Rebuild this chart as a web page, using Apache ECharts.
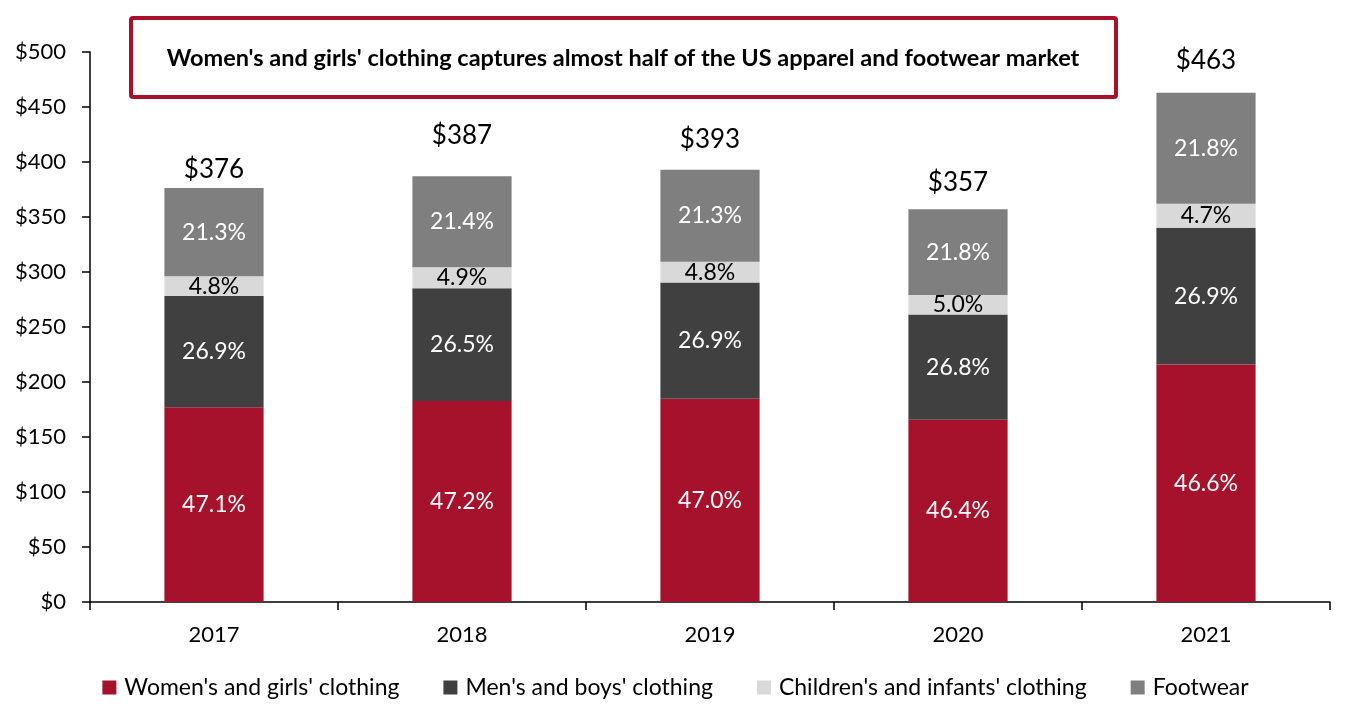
<!DOCTYPE html>
<html>
<head>
<meta charset="utf-8">
<script src="https://cdn.jsdelivr.net/npm/echarts@6/dist/echarts.min.js"></script>
<style>html,body{margin:0;padding:0;background:#fff}#c{width:1351px;height:716px}</style>
</head>
<body>
<div id="c"></div>
<script>
const categories = ['2017', '2018', '2019', '2020', '2021'];
const totals = [376, 387, 393, 357, 463];
const womens = [177.1, 182.7, 184.7, 165.6, 215.8];
const mens = [101.1, 102.6, 105.7, 95.7, 124.5];
const childrens = [18.0, 19.0, 18.9, 17.9, 21.8];
const footwear = [80.1, 82.8, 83.7, 77.8, 100.9];
const womensPct = ['47.1%', '47.2%', '47.0%', '46.4%', '46.6%'];
const mensPct = ['26.9%', '26.5%', '26.9%', '26.8%', '26.9%'];
const childrensPct = ['4.8%', '4.9%', '4.8%', '5.0%', '4.7%'];
const footwearPct = ['21.3%', '21.4%', '21.3%', '21.8%', '21.8%'];
const titleText = "Women's and girls' clothing captures almost half of the US apparel and footwear market";

// style-only: gap between bar top and total label
const totalLabelGap = [5, 28, 17, 14, 19];

const FONT = 'Lato';
const chart = echarts.init(document.getElementById('c'), null, {renderer: 'canvas'});

function seg(name, data, labels, color, labelColor) {
  return {
    name, type: 'bar', stack: 'total', barWidth: '40%',
    itemStyle: {color},
    data,
    label: {
      show: true, position: 'inside', color: labelColor,
      fontFamily: FONT, fontSize: 23,
      formatter: p => labels[p.dataIndex]
    }
  };
}

const series = [
  seg("Women's and girls' clothing", womens, womensPct, '#A6112B', '#fff'),
  seg("Men's and boys' clothing", mens, mensPct, '#404040', '#fff'),
  seg("Children's and infants' clothing", childrens, childrensPct, '#D9D9D9', '#000'),
  seg('Footwear', footwear, footwearPct, '#7F7F7F', '#fff')
];
// total labels via a zero-height stacked series on top
series.push({
  name: 'total', type: 'bar', stack: 'total', barWidth: '40%',
  itemStyle: {color: 'transparent'},
  data: totals.map((t, i) => ({
    value: 0,
    label: {distance: totalLabelGap[i]}
  })),
  label: {
    show: true, position: 'top', color: '#000', fontFamily: FONT, fontSize: 26,
    formatter: p => '$' + totals[p.dataIndex]
  }
});

chart.setOption({
  animation: false,
  textStyle: {fontFamily: FONT},
  grid: {left: 90, right: 21, top: 52, bottom: 114, containLabel: false},
  legend: {
    bottom: 12, left: 'center',
    data: series.slice(0, 4).map(s => s.name),
    icon: 'rect', itemWidth: 14, itemHeight: 14, itemGap: 44,
    textStyle: {fontFamily: FONT, fontSize: 23, color: '#000', padding: [0, 0, 0, 3]}
  },
  xAxis: {
    type: 'category', data: categories,
    axisLine: {lineStyle: {color: '#000', width: 1.5}},
    axisTick: {show: true, length: 8, lineStyle: {color: '#000', width: 1.5}},
    axisLabel: {color: '#000', fontFamily: FONT, fontSize: 22, margin: 22}
  },
  yAxis: {
    type: 'value', min: 0, max: 500, interval: 50,
    axisLine: {show: true, lineStyle: {color: '#000', width: 1.5}},
    axisTick: {show: true, length: 8, lineStyle: {color: '#000', width: 1.5}},
    splitLine: {show: false},
    axisLabel: {color: '#000', fontFamily: FONT, fontSize: 22, margin: 24,
      formatter: v => '$' + v}
  },
  series,
  graphic: [
    {type: 'rect', shape: {x: 131, y: 18, width: 985, height: 79, r: 2},
     style: {fill: '#fff', stroke: '#A6112B', lineWidth: 4}},
    {type: 'text', x: 623, y: 58,
     style: {text: titleText, fontFamily: FONT, fontWeight: 'bold', fontSize: 23.5,
       fill: '#000', align: 'center', verticalAlign: 'middle'}}
  ]
});
</script>
</body>
</html>
